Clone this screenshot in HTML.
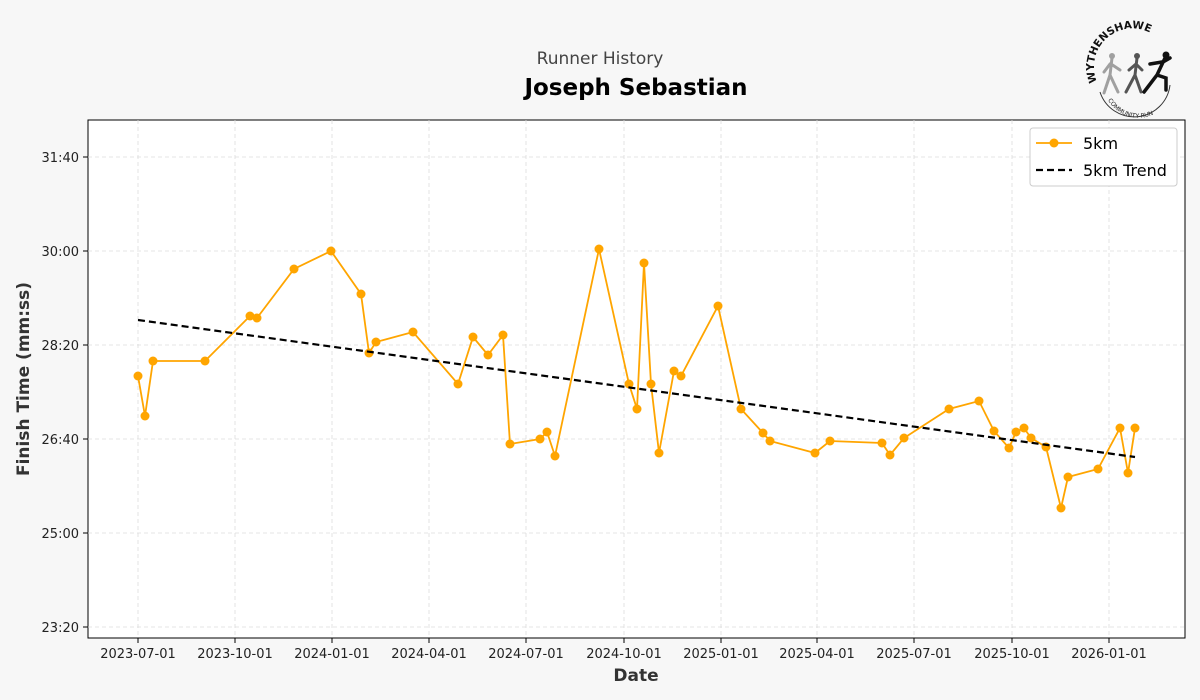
<!DOCTYPE html>
<html><head><meta charset="utf-8"><style>
body{margin:0;background:#f7f7f7;}
svg{display:block;font-family:"DejaVu Sans","Liberation Sans",sans-serif;}
</style></head><body>
<svg width="1200" height="700" viewBox="0 0 1200 700">
<rect width="1200" height="700" fill="#f7f7f7"/>
<text x="600" y="64" text-anchor="middle" font-size="17" fill="#444">Runner History</text>
<text x="636" y="95" text-anchor="middle" font-size="23" font-weight="bold" fill="#000">Joseph Sebastian</text>
<!-- logo -->
<defs><path id="arc" d="M1097,82 A38,38 0 0 1 1168,52"/><path id="arc2" d="M1108,100 A35,35 0 0 0 1170,98"/></defs>
<text font-size="10.5" font-weight="bold" fill="#111"><textPath href="#arc">WYTHENSHAWE</textPath></text>
<text font-size="6" fill="#222"><textPath href="#arc2">COMMUNITY RUN</textPath></text>
<path d="M1100,92 A36,36 0 0 0 1170,85" fill="none" stroke="#333" stroke-width="1"/>
<g stroke-linecap="round" fill="none">
<path d="M1112,58 L1110,75 L1104,93 M1110,75 L1118,92 M1110,64 L1104,72 M1111,64 L1120,70" stroke="#a0a0a0" stroke-width="3"/>
<path d="M1137,58 L1135,75 L1126,92 M1135,75 L1141,92 M1136,64 L1129,70 M1136,64 L1142,70" stroke="#555" stroke-width="3"/>
<path d="M1165,58 L1157,75 L1144,92 M1157,75 L1166,78 L1166,90 M1162,62 L1150,64 M1163,62 L1170,58" stroke="#111" stroke-width="3.5"/>
</g>
<circle cx="1112" cy="56" r="3" fill="#a0a0a0"/><circle cx="1137" cy="56" r="3" fill="#555"/><circle cx="1166" cy="55" r="3.5" fill="#111"/>
<!-- plot -->
<rect x="88" y="120" width="1097" height="518" fill="#fff" stroke="#000" stroke-width="1"/>
<g stroke="#ddd" stroke-dasharray="4,3" stroke-width="0.8">
<line x1="138" y1="120" x2="138" y2="638"/><line x1="235" y1="120" x2="235" y2="638"/><line x1="332" y1="120" x2="332" y2="638"/><line x1="429" y1="120" x2="429" y2="638"/><line x1="526" y1="120" x2="526" y2="638"/><line x1="624" y1="120" x2="624" y2="638"/><line x1="721" y1="120" x2="721" y2="638"/><line x1="817" y1="120" x2="817" y2="638"/><line x1="914" y1="120" x2="914" y2="638"/><line x1="1012" y1="120" x2="1012" y2="638"/><line x1="1109" y1="120" x2="1109" y2="638"/>
<line x1="88" y1="157" x2="1185" y2="157"/><line x1="88" y1="251" x2="1185" y2="251"/><line x1="88" y1="345" x2="1185" y2="345"/><line x1="88" y1="439" x2="1185" y2="439"/><line x1="88" y1="533" x2="1185" y2="533"/><line x1="88" y1="627" x2="1185" y2="627"/>
</g>
<g stroke="#000" stroke-width="1">
<line x1="138" y1="638" x2="138" y2="643"/><line x1="235" y1="638" x2="235" y2="643"/><line x1="332" y1="638" x2="332" y2="643"/><line x1="429" y1="638" x2="429" y2="643"/><line x1="526" y1="638" x2="526" y2="643"/><line x1="624" y1="638" x2="624" y2="643"/><line x1="721" y1="638" x2="721" y2="643"/><line x1="817" y1="638" x2="817" y2="643"/><line x1="914" y1="638" x2="914" y2="643"/><line x1="1012" y1="638" x2="1012" y2="643"/><line x1="1109" y1="638" x2="1109" y2="643"/>
<line x1="83" y1="157" x2="88" y2="157"/><line x1="83" y1="251" x2="88" y2="251"/><line x1="83" y1="345" x2="88" y2="345"/><line x1="83" y1="439" x2="88" y2="439"/><line x1="83" y1="533" x2="88" y2="533"/><line x1="83" y1="627" x2="88" y2="627"/>
</g>
<g font-size="13" fill="#222" text-anchor="middle">
<text x="138" y="658">2023-07-01</text><text x="235" y="658">2023-10-01</text><text x="332" y="658">2024-01-01</text><text x="429" y="658">2024-04-01</text><text x="526" y="658">2024-07-01</text><text x="624" y="658">2024-10-01</text><text x="721" y="658">2025-01-01</text><text x="817" y="658">2025-04-01</text><text x="914" y="658">2025-07-01</text><text x="1012" y="658">2025-10-01</text><text x="1109" y="658">2026-01-01</text>
</g>
<g font-size="13" fill="#222" text-anchor="end">
<text x="79" y="162">31:40</text><text x="79" y="256">30:00</text><text x="79" y="350">28:20</text><text x="79" y="444">26:40</text><text x="79" y="538">25:00</text><text x="79" y="632">23:20</text>
</g>
<text x="636" y="681" text-anchor="middle" font-size="17" font-weight="bold" fill="#333">Date</text>
<text transform="translate(29,379) rotate(-90)" text-anchor="middle" font-size="17" font-weight="bold" fill="#333">Finish Time (mm:ss)</text>
<polyline fill="none" stroke="#ffa500" stroke-width="1.8" points="138,376 145,416 153,361 205,361 250,316 257,318 294,269 331,251 361,294 369,353 376,342 413,332 458,384 473,337 488,355 503,335 510,444 540,439 547,432 555,456 599,249 629,384 637,409 644,263 651,384 659,453 674,371 681,376 718,306 741,409 763,433 770,441 815,453 830,441 882,443 890,455 904,438 949,409 979,401 994,431 1009,448 1016,432 1024,428 1031,438 1046,447 1061,508 1068,477 1098,469 1120,428 1128,473 1135,428"/>
<g fill="#ffa500" id="pts"></g>
<line x1="138" y1="320" x2="1135" y2="457" stroke="#000" stroke-width="2.2" stroke-dasharray="7,4"/>
<!-- legend -->
<rect x="1030" y="128" width="147" height="58" rx="3" fill="#fff" stroke="#ccc"/>
<line x1="1036" y1="143" x2="1072" y2="143" stroke="#ffa500" stroke-width="1.8"/><circle cx="1054" cy="143" r="4.5" fill="#ffa500"/>
<text x="1083" y="149" font-size="16" fill="#000">5km</text>
<line x1="1036" y1="170" x2="1072" y2="170" stroke="#000" stroke-width="2.2" stroke-dasharray="7,4"/>
<text x="1083" y="176" font-size="16" fill="#000">5km Trend</text>
</svg>
<script>
var p="138,376 145,416 153,361 205,361 250,316 257,318 294,269 331,251 361,294 369,353 376,342 413,332 458,384 473,337 488,355 503,335 510,444 540,439 547,432 555,456 599,249 629,384 637,409 644,263 651,384 659,453 674,371 681,376 718,306 741,409 763,433 770,441 815,453 830,441 882,443 890,455 904,438 949,409 979,401 994,431 1009,448 1016,432 1024,428 1031,438 1046,447 1061,508 1068,477 1098,469 1120,428 1128,473 1135,428".split(" ");
var g=document.getElementById("pts"),ns="http://www.w3.org/2000/svg";
p.forEach(function(s){var a=s.split(","),c=document.createElementNS(ns,"circle");c.setAttribute("cx",a[0]);c.setAttribute("cy",a[1]);c.setAttribute("r","4.5");g.appendChild(c);});
</script>
</body></html>
